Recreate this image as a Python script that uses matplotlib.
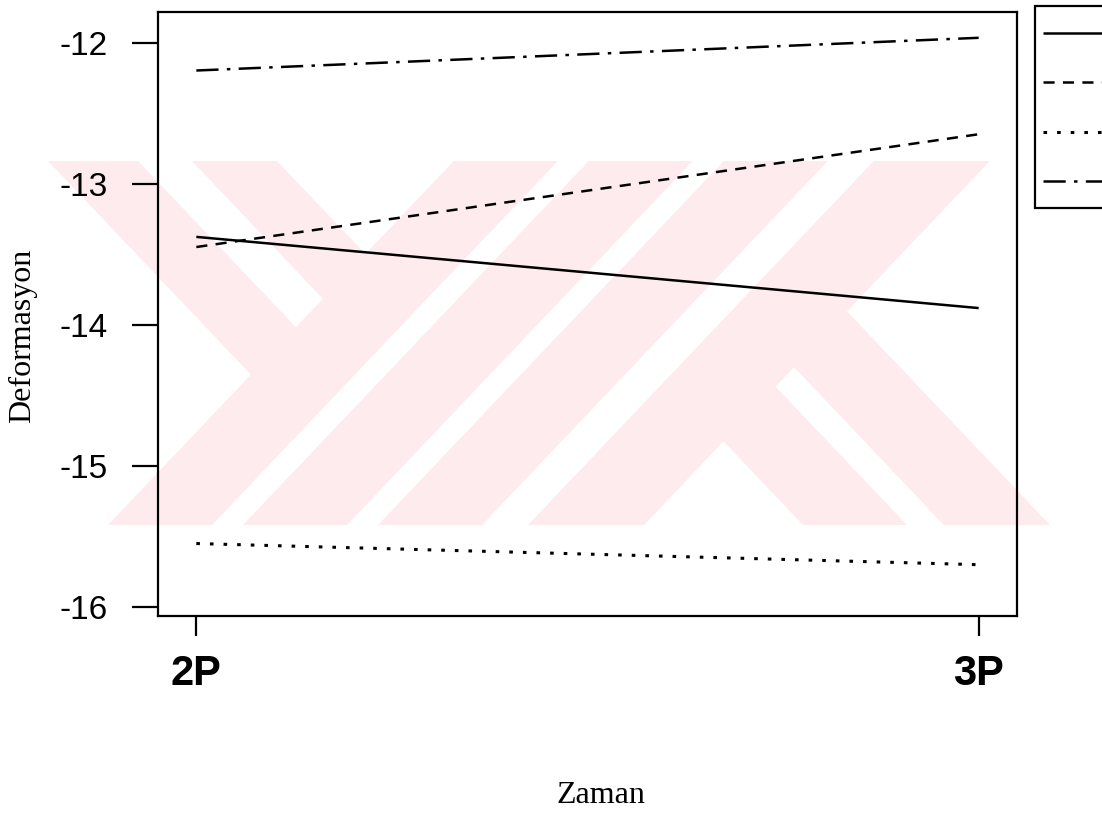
import matplotlib
matplotlib.use("Agg")
import matplotlib.pyplot as plt
from matplotlib.patches import Polygon, Rectangle
from matplotlib.lines import Line2D

# ---- data -------------------------------------------------------------
times = ["2P", "3P"]
yticks = [-16, -15, -14, -13, -12]
group1 = [-13.375, -13.88]   # solid
group2 = [-13.447, -12.647]  # dashed
group3 = [-15.55, -15.70]    # dotted
group4 = [-12.195, -11.963]  # dash-dot

series = [group1, group2, group3, group4]
styles = ["-", (0, (8, 6)), (0, (2.6, 7.2)), (0, (16, 6, 2.5, 6))]
widths = [1.8, 1.8, 2.2, 1.8]

# ---- figure -------------------------------------------------------------
W, H = 1102, 813
plt.rcParams["lines.scale_dashes"] = False
plt.rcParams["font.family"] = ["Liberation Sans", "DejaVu Sans"]

fig = plt.figure(figsize=(W / 100, H / 100), dpi=100)

# pale pink stamp behind the chart (pixel coordinates)
bg = fig.add_axes([0, 0, 1, 1], zorder=0)
bg.set_xlim(0, W)
bg.set_ylim(H, 0)
bg.axis("off")

pink = "#fdebee"
y0, y1, k = 161, 525, 0.95
rising = [(108, 212), (243, 347), (378, 482), (528, 644)]
for xa, xb in rising:
    bg.add_patch(Polygon([(xa, y1), (xb, y1),
                          (xb + k * (y1 - y0), y0), (xa + k * (y1 - y0), y0)],
                         closed=True, fc=pink, ec="none"))

# bands falling from the top into the first rising band
c_first = sum(rising[0]) / 2
for xa, xb in [(48, 138), (192, 277)]:
    pts = [(xa, y0), (xb, y0)]
    for xt in (xb, xa):
        y = (c_first - xt) / (2 * k) + (y0 + y1) / 2
        pts.append((xt + k * (y - y0), y))
    bg.add_patch(Polygon(pts, closed=True, fc=pink, ec="none"))

# bands climbing from the bottom into the last rising band
c_last = sum(rising[-1]) / 2
for xa, xb in [(803, 907), (944, 1050)]:
    pts = [(xa, y1), (xb, y1)]
    for xt in (xb, xa):
        d = (xt - c_last) / (2 * k)
        pts.append((xt - k * d, y1 - d))
    bg.add_patch(Polygon(pts, closed=True, fc=pink, ec="none"))

# ---- main axes ----------------------------------------------------------
left, right, top, bottom = 158, 1017, 12, 616
ax = fig.add_axes([left / W, 1 - bottom / H, (right - left) / W, (bottom - top) / H],
                  zorder=1)
ax.patch.set_alpha(0)

xpos = [1, 2]
for vals, ls, lw in zip(series, styles, widths):
    ax.plot(xpos, vals, color="black", lw=lw, linestyle=ls,
            solid_capstyle="butt", dash_capstyle="butt")

ax.set_xlim(0.951, 2.049)
ax.set_ylim(-16.064, -11.78)
ax.set_xticks(xpos)
ax.set_xticklabels(times, fontsize=30, fontweight="bold")
ax.set_yticks(yticks)
ax.set_yticklabels([str(t) for t in yticks], fontsize=24)
ax.tick_params(axis="y", length=19, width=1.6, pad=17, direction="out")
ax.tick_params(axis="x", length=14.4, width=1.6, pad=13, direction="out")
for sp in ax.spines.values():
    sp.set_linewidth(1.6)
    sp.set_color("black")

# axis titles
fig.text(23 / W, 1 - 336 / H, "Deformasyon", rotation=90, ha="center", va="center",
         fontsize=23, family=["Liberation Serif", "DejaVu Serif"])
fig.text(601 / W, 1 - 795 / H, "Zaman", ha="center", va="center",
         fontsize=23, family=["Liberation Serif", "DejaVu Serif"])

# key box at the right edge
leg = fig.add_axes([0, 0, 1, 1], zorder=2)
leg.set_xlim(0, W)
leg.set_ylim(H, 0)
leg.axis("off")
leg.add_patch(Rectangle((1035, 6), 120, 202, fc="white", ec="black", lw=1.6))
for i, (ls, lw) in enumerate(zip(styles, widths)):
    yy = 33 + i * 49.3
    leg.add_line(Line2D([1043, 1110], [yy, yy], color="black", lw=lw, linestyle=ls,
                        solid_capstyle="butt", dash_capstyle="butt"))

fig.savefig("out.png", dpi=100)
